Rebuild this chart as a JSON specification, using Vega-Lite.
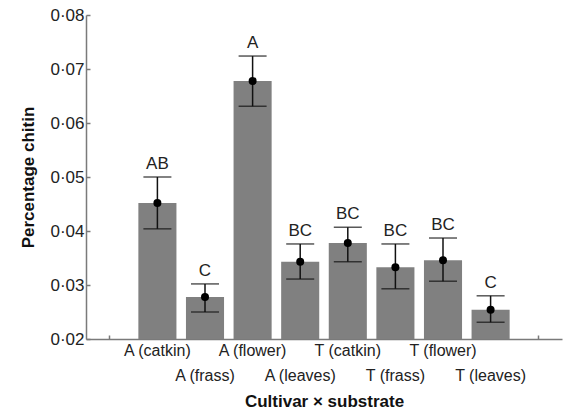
{
  "$schema": "https://vega.github.io/schema/vega-lite/v6.json",
  "autosize": {"type": "none"},
  "width": 476,
  "height": 324,
  "padding": {"left": 86, "top": 15, "right": 5, "bottom": 77},
  "background": "white",
  "config": {
    "view": {"stroke": null},
    "font": "Liberation Sans",
    "axis": {"grid": false, "domainColor": "#7a7a7a", "tickColor": "#7a7a7a", "labelColor": "#222", "titleColor": "#111", "labelFont": "Liberation Sans", "titleFont": "Liberation Sans", "domainWidth": 1.5}
  },
  "data": {
    "values": [
      {"group": "A (catkin)", "mean": 0.0452, "lo": 0.0404, "hi": 0.0500, "letter": "AB"},
      {"group": "A (frass)", "mean": 0.0278, "lo": 0.0250, "hi": 0.0302, "letter": "C"},
      {"group": "A (flower)", "mean": 0.0678, "lo": 0.0631, "hi": 0.0724, "letter": "A"},
      {"group": "A (leaves)", "mean": 0.0343, "lo": 0.0311, "hi": 0.0376, "letter": "BC"},
      {"group": "T (catkin)", "mean": 0.0378, "lo": 0.0343, "hi": 0.0407, "letter": "BC"},
      {"group": "T (frass)", "mean": 0.0333, "lo": 0.0293, "hi": 0.0376, "letter": "BC"},
      {"group": "T (flower)", "mean": 0.0346, "lo": 0.0307, "hi": 0.0387, "letter": "BC"},
      {"group": "T (leaves)", "mean": 0.0254, "lo": 0.0231, "hi": 0.0280, "letter": "C"}
    ]
  },
  "encoding": {
    "x": {
      "field": "group", "type": "nominal",
      "scale": {"domain": ["_a", "A (catkin)", "A (frass)", "A (flower)", "A (leaves)", "T (catkin)", "T (frass)", "T (flower)", "T (leaves)", "_b"], "paddingInner": 0.2, "paddingOuter": 0.1},
      "axis": {
        "title": "Cultivar × substrate",
        "titleFontSize": 17, "titleFontWeight": "bold", "titlePadding": 10,
        "labelAngle": 0, "labelFontSize": 16, "labelPadding": 7, "labelLineHeight": 25,
        "tickSize": -4, "tickWidth": 1.5,
        "labelExpr": "indexof(['_a','_b'], datum.value) >= 0 ? '' : (indexof(['A (frass)','A (leaves)','T (frass)','T (leaves)'], datum.value) >= 0 ? ['', datum.value] : datum.value)"
      }
    }
  },
  "layer": [
    {
      "mark": {"type": "bar", "color": "#808080"},
      "encoding": {
        "y": {"field": "mean", "type": "quantitative", "scale": {"domain": [0.02, 0.08], "zero": false, "clamp": true},
          "axis": {"title": "Percentage chitin", "titleFontSize": 17, "titleFontWeight": "bold", "titlePadding": 12,
            "values": [0.02, 0.03, 0.04, 0.05, 0.06, 0.07, 0.08],
            "labelExpr": "replace(format(datum.value, '.2f'), '.', '·')",
            "labelFontSize": 17, "labelPadding": 6, "tickSize": -4, "tickWidth": 1.5}},
        "y2": {"datum": 0.02}
      }
    },
    {
      "mark": {"type": "rule", "color": "#111", "strokeWidth": 1.5},
      "encoding": {"y": {"field": "lo", "type": "quantitative"}, "y2": {"field": "hi"}}
    },
    {
      "mark": {"type": "tick", "color": "#111", "size": 28, "thickness": 1.5},
      "encoding": {"y": {"field": "lo", "type": "quantitative"}}
    },
    {
      "mark": {"type": "tick", "color": "#111", "size": 28, "thickness": 1.5},
      "encoding": {"y": {"field": "hi", "type": "quantitative"}}
    },
    {
      "mark": {"type": "point", "filled": true, "color": "#000", "size": 64, "opacity": 1},
      "encoding": {"y": {"field": "mean", "type": "quantitative"}}
    },
    {
      "mark": {"type": "text", "color": "#222", "fontSize": 17, "baseline": "bottom", "dy": -4},
      "encoding": {"y": {"field": "hi", "type": "quantitative"}, "text": {"field": "letter"}}
    }
  ]
}
